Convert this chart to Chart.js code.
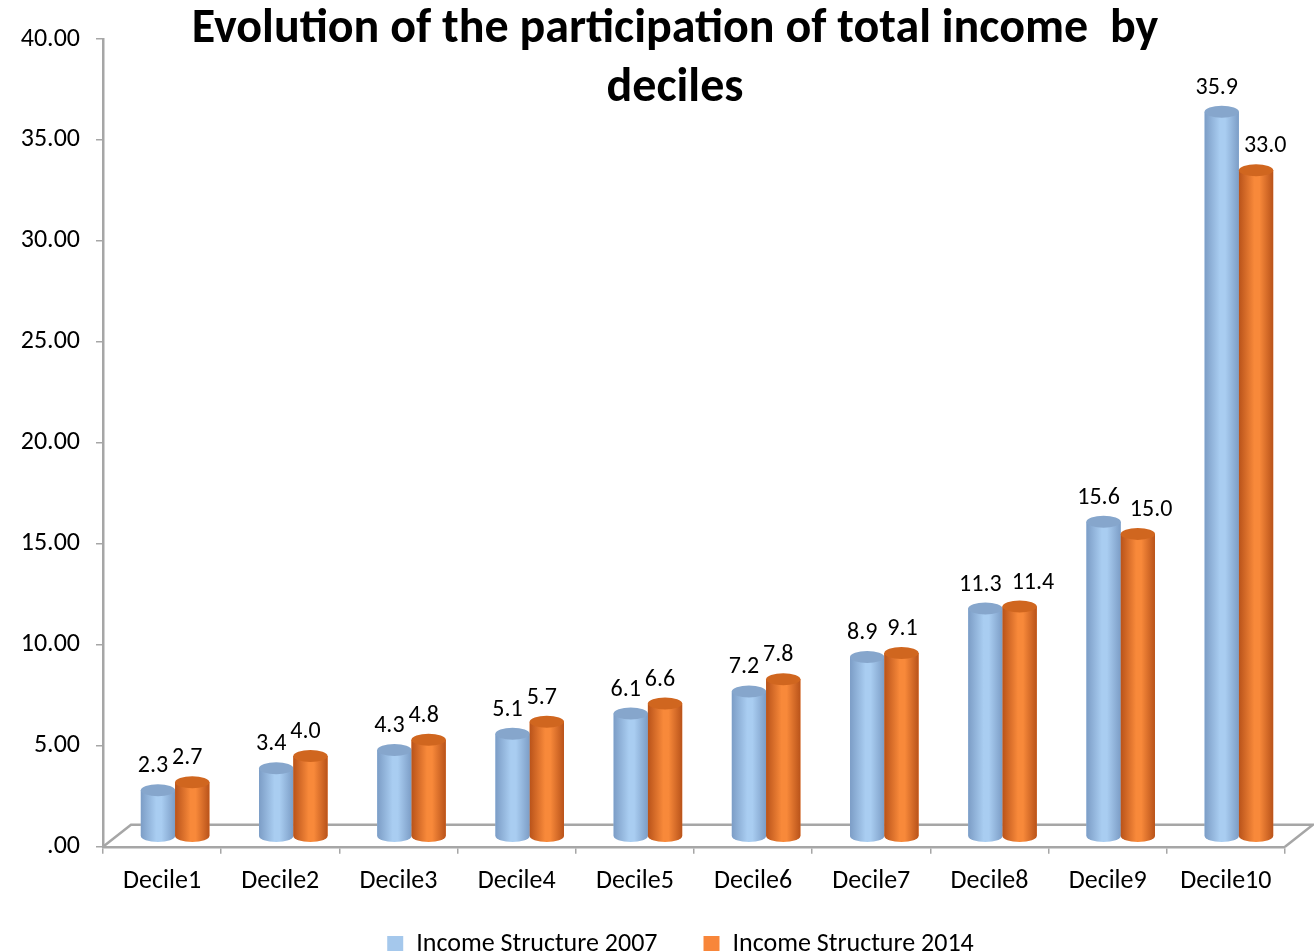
<!DOCTYPE html>
<html>
<head>
<meta charset="utf-8">
<script src="https://cdn.jsdelivr.net/npm/chart.js@4"></script>
<style>
  html, body { margin: 0; padding: 0; background: #fff; }
  #wrap { position: relative; width: 1314px; height: 951px; }
  #title {
    position: absolute; left: 0; top: -4px; width: 1350px; margin: 0;
    text-align: center; font: bold 48px Carlito, Lato, sans-serif; line-height: 59px; color: #000;
  }
</style>
</head>
<body>
<div id="wrap">
  <canvas id="myChart" width="1314" height="951"></canvas>
  <h1 id="title">Evolution of the participation of total income &nbsp;by<br>deciles</h1>
</div>
<script>
const deciles = ['Decile1', 'Decile2', 'Decile3', 'Decile4', 'Decile5', 'Decile6', 'Decile7', 'Decile8', 'Decile9', 'Decile10'];
const income2007 = [2.3, 3.4, 4.3, 5.1, 6.1, 7.2, 8.9, 11.3, 15.6, 35.9];
const income2014 = [2.7, 4.0, 4.8, 5.7, 6.6, 7.8, 9.1, 11.4, 15.0, 33.0];
const yTicks = [0, 5, 10, 15, 20, 25, 30, 35, 40];

const FONT = 'Carlito, Lato, sans-serif';
const DX = 13, DY = -10;   // depth shift of the bars (3d look)

// colours for the cylinders: [edge, middle, top]
const looks = [
    ['#7C9DC6', '#A9CDF1', '#86A6CC'],
    ['#B9531A', '#F8893A', '#D0661F']
];

const cylinders = {
    id: 'cylinders',
    afterLayout(chart) {
        // legend sits a bit right of the middle in the original
        const lg = chart.legend;
        lg.left += 38;
        lg.right += 38;
        lg.top -= 24;
        lg.bottom -= 24;
    },
    beforeDraw(chart) {
        // floor of the 3d plot
        const ctx = chart.ctx;
        const a = chart.chartArea;
        const y0 = chart.scales.y.getPixelForValue(0);
        ctx.save();
        ctx.strokeStyle = '#A6A6A6';
        ctx.lineWidth = 2.5;
        ctx.beginPath();
        ctx.moveTo(a.left, y0);
        ctx.lineTo(a.left + 2 * DX + 2, y0 + 2 * DY - 2);
        ctx.lineTo(a.right + 2 * DX + 2, y0 + 2 * DY - 2);
        ctx.lineTo(a.right, y0);
        ctx.stroke();
        ctx.restore();
    },
    beforeDatasetsDraw(chart) {
        chart.ctx.save();
        chart.ctx.translate(DX, DY);
    },
    afterDatasetsDraw(chart) {
        const ctx = chart.ctx;
        chart.data.datasets.forEach((ds, di) => {
            const c = looks[di];
            chart.getDatasetMeta(di).data.forEach(bar => {
                const w = bar.width, l = bar.x - w / 2, r = bar.x + w / 2;
                const top = bar.y, base = bar.base, ry = 6;
                const g = ctx.createLinearGradient(l, 0, r, 0);
                g.addColorStop(0, c[0]);
                g.addColorStop(0.45, c[1]);
                g.addColorStop(0.6, c[1]);
                g.addColorStop(1, c[0]);
                ctx.fillStyle = g;
                ctx.beginPath();
                ctx.moveTo(l, top);
                ctx.lineTo(l, base);
                ctx.ellipse(bar.x, base, w / 2, ry, 0, Math.PI, 0, true);
                ctx.lineTo(r, top);
                ctx.closePath();
                ctx.fill();
                ctx.fillStyle = c[2];
                ctx.beginPath();
                ctx.ellipse(bar.x, top, w / 2, ry, 0, 0, Math.PI * 2);
                ctx.fill();
            });
        });
        ctx.restore();

        // value labels, the 2014 one is pushed right when it would collide
        ctx.save();
        ctx.fillStyle = '#000';
        ctx.font = '24px ' + FONT;
        ctx.textAlign = 'center';
        ctx.textBaseline = 'alphabetic';
        const m0 = chart.getDatasetMeta(0).data, m1 = chart.getDatasetMeta(1).data;
        m0.forEach((b0, i) => {
            const b1 = m1[i];
            const t0 = income2007[i].toFixed(1), t1 = income2014[i].toFixed(1);
            const w0 = ctx.measureText(t0).width, w1 = ctx.measureText(t1).width;
            const x0 = b0.x + DX - 5, y0 = b0.y + DY - 18;
            let x1 = b1.x + DX - 5;
            const y1 = b1.y + DY - 18;
            const dy = Math.abs(y1 - y0);
            const gap = (x1 - w1 / 2) - (x0 + w0 / 2);
            if ((dy < 6 && gap < 10) || (dy < 24 && gap < 0)) {
                x1 = x0 + w0 / 2 + 10 + w1 / 2;
            }
            // keep clear of the taller blue cylinder
            const blueRight = b0.x + DX + b0.width / 2;
            if (y1 > b0.y + DY && x1 - w1 / 2 < blueRight + 5) {
                x1 = blueRight + 5 + w1 / 2;
            }
            ctx.fillText(t0, x0, y0);
            ctx.fillText(t1, x1, y1);
        });
        ctx.restore();
    }
};

const ctx = document.getElementById('myChart');

new Chart(ctx, {
    type: 'bar',
    data: {
        labels: deciles,
        datasets: [{
            label: 'Income Structure 2007',
            data: income2007,
            backgroundColor: '#A5C8EC',
            borderWidth: 0
        }, {
            label: 'Income Structure 2014',
            data: income2014,
            backgroundColor: '#F8863A',
            borderWidth: 0
        }]
    },
    options: {
        responsive: false,
        animation: false,
        layout: {
            padding: { left: 0, right: 29, top: 39, bottom: -40 }
        },
        datasets: {
            bar: { categoryPercentage: 0.58, barPercentage: 1.0 }
        },
        scales: {
            x: {
                grid: { drawOnChartArea: false, drawTicks: true, tickLength: 7, color: '#A6A6A6', lineWidth: 1.5 },
                border: { display: true, color: '#A6A6A6', width: 2.5 },
                ticks: { color: '#000', font: { family: FONT, size: 26 }, padding: 12 }
            },
            y: {
                min: 0,
                max: 40,
                afterBuildTicks: scale => { scale.ticks = yTicks.map(v => ({ value: v })); },
                afterFit: scale => { scale.width = 103; },
                grid: { drawOnChartArea: false, drawTicks: true, tickLength: 7, color: '#A6A6A6', lineWidth: 1.5 },
                border: { display: true, color: '#A6A6A6', width: 2.5 },
                ticks: {
                    color: '#000',
                    font: { family: FONT, size: 26 },
                    padding: 16,
                    callback: v => v === 0 ? '.00' : v.toFixed(2)
                }
            }
        },
        plugins: {
            legend: {
                position: 'bottom',
                labels: {
                    color: '#000',
                    font: { family: FONT, size: 26 },
                    boxWidth: 16,
                    boxHeight: 16,
                    padding: 46
                }
            },
            tooltip: { enabled: false }
        }
    },
    plugins: [cylinders]
});
</script>
</body>
</html>
